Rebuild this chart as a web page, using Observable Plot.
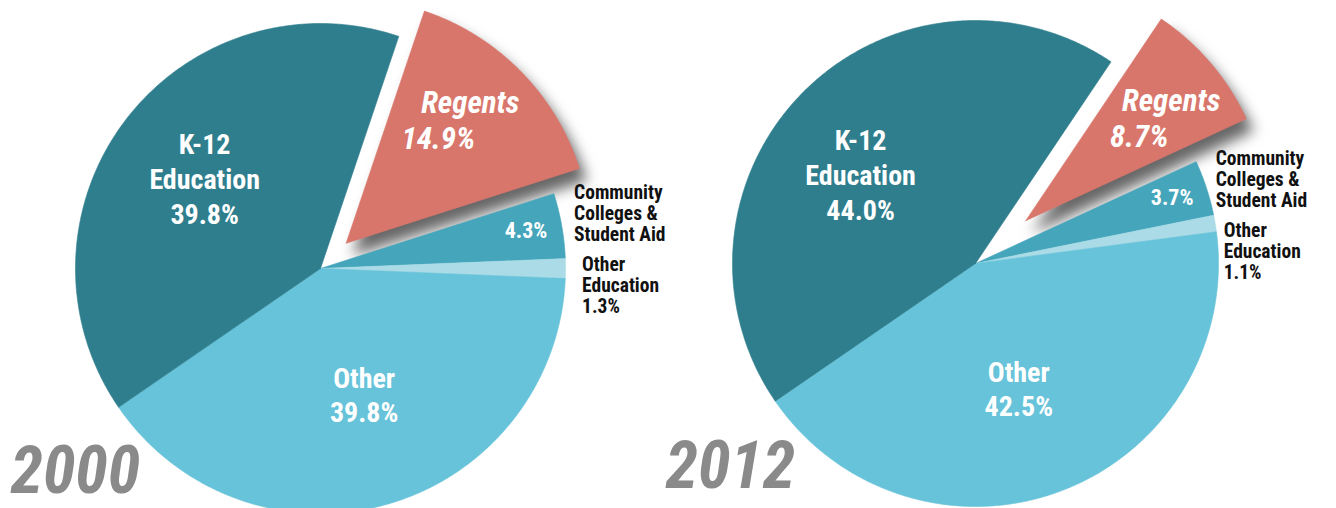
<!DOCTYPE html>
<html>
<head>
<meta charset="utf-8">
<script src="https://cdn.jsdelivr.net/npm/d3@7"></script>
<script src="https://cdn.jsdelivr.net/npm/@observablehq/plot@0.6"></script>
<style>
  html, body { margin: 0; padding: 0; background: #ffffff; }
  #chart { width: 1336px; height: 508px; overflow: hidden; }
</style>
</head>
<body>
<div id="chart"></div>
<script>
// ---- data ----
const categories = ["Regents", "Community Colleges & Student Aid", "Other Education", "Other", "K-12 Education"];
const years = ["2000", "2012"];
const values2000 = [14.9, 4.3, 1.3, 39.8, 39.8];
const values2012 = [8.7, 3.7, 1.1, 42.5, 44.0];
const colors = ["#d9766b", "#44a5bb", "#aadbe7", "#67c3d9", "#2f7e8d"];

// ---- layout ----
const W = 1336, H = 508;
const FONT = "'Liberation Sans Narrow', 'Arial Narrow', 'Roboto Condensed', 'Liberation Sans', sans-serif";
const BOUNDARY = 235.5; // compass angle of the Other / K-12 boundary
const pies = [
  {year: years[0], values: values2000, cx: 320, cy: 268, r: 245, explode: 36, regShift: [-14, -2]},
  {year: years[1], values: values2012, cx: 975, cy: 263, r: 243, explode: 66, regShift: [0, 9]}
];
const rad = d => d * Math.PI / 180;
const pt = (cx, cy, r, a) => [cx + r * Math.sin(rad(a)), cy - r * Math.cos(rad(a))];
const fmt = v => v.toFixed(1) + "%";

const marks = [];
const texts = {big: [], regName: [], regVal: [], inVal: [], outside: [], year: []};

pies.forEach((p, pi) => {
  const total = d3.sum(p.values);
  const before = d3.sum(p.values.slice(0, 4));
  let acc = BOUNDARY - before / total * 360;
  let comm = null;
  p.values.forEach((v, i) => {
    const s = acc, e = acc + v / total * 360;
    acc = e;
    const mid = (s + e) / 2;
    const off = i === 0 ? p.explode : 0;
    const [ox, oy] = pt(p.cx, p.cy, off, mid);
    const pts = [{x: ox, y: oy}];
    const n = Math.max(2, Math.ceil((e - s) / 0.5));
    for (let k = 0; k <= n; k++) {
      const [x, y] = pt(ox, oy, p.r, s + (e - s) * k / n);
      pts.push({x, y});
    }
    pts.push({x: ox, y: oy});
    marks.push(Plot.line(pts, {x: "x", y: "y", fill: colors[i], stroke: colors[i], strokeWidth: 0.6}));

    if (i === 0) {
      const [lx, ly] = pt(ox, oy, p.r * 0.7, mid);
      const X = lx + p.regShift[0], Y = ly + p.regShift[1];
      texts.regName.push({x: X + 16, y: Y - 18, t: categories[0]});
      texts.regVal.push({x: X - 16, y: Y + 18, t: fmt(v)});
    } else if (i === 1) {
      const [lx, ly] = pt(p.cx, p.cy, p.r * 0.86, mid);
      texts.inVal.push({x: lx - 2, y: ly - 1, t: fmt(v)});
      const [tx, ty] = pt(p.cx, p.cy, p.r + 15, s);
      comm = [tx + 6, ty + 6];
      texts.outside.push({x: comm[0], y: comm[1], t: "Community\nColleges &\nStudent Aid"});
    } else if (i === 2) {
      texts.outside.push({x: comm[0] + 8, y: comm[1] + 72, t: "Other\nEducation\n" + fmt(v)});
    } else if (i === 3) {
      const [lx, ly] = pt(p.cx, p.cy, p.r * 0.545, 160);
      texts.big.push({x: lx - 2, y: ly, t: "Other\n" + fmt(v)});
    } else if (i === 4) {
      const [lx, ly] = pt(p.cx, p.cy, p.r * 0.6, 308);
      texts.big.push({x: lx, y: ly, t: "K-12\nEducation\n" + fmt(v)});
    }
  });
  texts.year.push({x: p.cx - 310, y: p.cy + 203, t: p.year});
});

marks.push(
  Plot.text(texts.big, {x: "x", y: "y", text: "t", fill: "white", fontSize: 28, fontWeight: "bold",
    fontFamily: FONT, lineHeight: 1.24, textAnchor: "middle"}),
  Plot.text(texts.regName, {x: "x", y: "y", text: "t", fill: "white", fontSize: 31, fontWeight: "bold",
    fontStyle: "italic", fontFamily: FONT, textAnchor: "middle"}),
  Plot.text(texts.regVal, {x: "x", y: "y", text: "t", fill: "white", fontSize: 31, fontWeight: "bold",
    fontStyle: "italic", fontFamily: FONT, textAnchor: "middle"}),
  Plot.text(texts.inVal, {x: "x", y: "y", text: "t", fill: "white", fontSize: 22, fontWeight: "bold",
    fontFamily: FONT, textAnchor: "middle"}),
  Plot.text(texts.outside, {x: "x", y: "y", text: "t", fill: "#111", fontSize: 19.5, fontWeight: "bold",
    fontFamily: FONT, lineHeight: 1.07, textAnchor: "start", lineAnchor: "top", dy: -11}),
  Plot.text(texts.year, {x: "x", y: "y", text: "t", fill: "#8a8a8a", fontSize: 66, fontWeight: "bold",
    fontStyle: "italic", fontFamily: FONT, textAnchor: "start", lineAnchor: "middle"})
);

const chart = Plot.plot({
  width: W, height: H,
  margin: 0,
  style: {background: "#ffffff"},
  x: {type: "linear", domain: [0, W], range: [0, W], axis: null},
  y: {type: "linear", domain: [0, H], range: [0, H], axis: null},
  marks
});

// soft drop shadow under the exploded Regents slices
chart.querySelectorAll(`g[fill="${colors[0]}"]`).forEach(el => {
  el.style.filter = "drop-shadow(7px 12px 7px rgba(0,0,0,0.6))";
});

document.getElementById("chart").appendChild(chart);
</script>
</body>
</html>
